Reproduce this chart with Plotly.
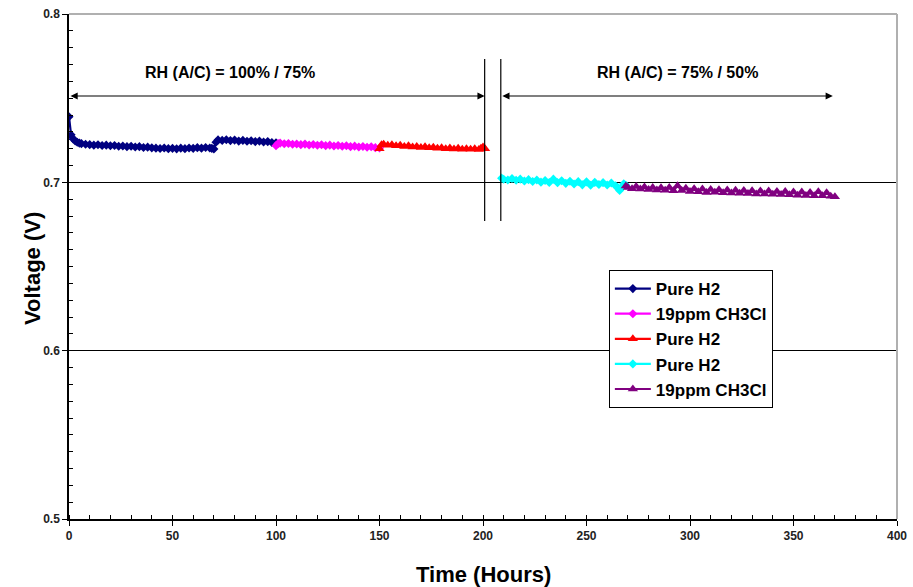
import plotly.graph_objects as go

# ---- data (hours, volts) ----
t_h2_a = [0, 1, 2, 3, 4, 5, 6, 8, 10, 12, 14, 16, 18, 20, 22, 24, 26, 28, 30, 32, 34, 36, 38,
          40, 42, 44, 46, 48, 50, 52, 54, 56, 58, 60, 62, 64, 66, 68, 69, 70, 71, 72, 74, 76,
          78, 80, 82, 84, 86, 88, 90, 92, 94, 96, 98, 100]
v_h2_a = [0.7390, 0.7282, 0.7258, 0.7246, 0.7238, 0.7233, 0.7230, 0.7226, 0.7224, 0.7221,
          0.7223, 0.7219, 0.7221, 0.7217, 0.7219, 0.7214, 0.7216, 0.7212, 0.7214, 0.7210,
          0.7212, 0.7207, 0.7209, 0.7205, 0.7203, 0.7201, 0.7204, 0.7200, 0.7202, 0.7199,
          0.7203, 0.7200, 0.7204, 0.7202, 0.7206, 0.7203, 0.7207, 0.7204, 0.7202, 0.7198,
          0.7238, 0.7252, 0.7249, 0.7253, 0.7248, 0.7251, 0.7245, 0.7249, 0.7244, 0.7247,
          0.7242, 0.7245, 0.7240, 0.7242, 0.7237, 0.7235]

t_cl_a = [100, 101, 102, 104, 106, 108, 110, 112, 114, 116, 118, 120, 122, 124, 126, 128, 130,
          132, 134, 136, 138, 140, 142, 144, 146, 148, 150]
v_cl_a = [0.7218, 0.7230, 0.7233, 0.7229, 0.7231, 0.7226, 0.7228, 0.7224, 0.7227, 0.7222,
          0.7225, 0.7220, 0.7223, 0.7218, 0.7221, 0.7216, 0.7219, 0.7214, 0.7217, 0.7212,
          0.7215, 0.7210, 0.7213, 0.7208, 0.7211, 0.7206, 0.7204]

t_h2_b = [150, 151, 152, 154, 156, 158, 160, 162, 164, 166, 168, 170, 172, 174, 176, 178, 180,
          182, 184, 186, 188, 190, 192, 194, 196, 198, 199, 200, 201]
v_h2_b = [0.7200, 0.7224, 0.7226, 0.7220, 0.7223, 0.7217, 0.7220, 0.7213, 0.7217, 0.7210,
          0.7213, 0.7207, 0.7211, 0.7205, 0.7208, 0.7202, 0.7206, 0.7200, 0.7204, 0.7198,
          0.7202, 0.7197, 0.7200, 0.7196, 0.7199, 0.7195, 0.7203, 0.7210, 0.7200]

t_h2_c = [209, 210, 212, 214, 216, 218, 220, 222, 224, 226, 228, 230, 232, 234, 236, 238, 240,
          242, 244, 246, 248, 250, 252, 254, 256, 258, 260, 262, 264, 265, 266, 267, 268, 269]
v_h2_c = [0.7025, 0.7018, 0.7014, 0.7023, 0.7012, 0.7019, 0.7008, 0.7016, 0.7005, 0.7014,
          0.7001, 0.7011, 0.6999, 0.7019, 0.6998, 0.7009, 0.6994, 0.7006, 0.6990, 0.7004,
          0.6985, 0.7003, 0.6983, 0.7000, 0.6987, 0.6998, 0.6984, 0.6996, 0.6980, 0.6970,
          0.6952, 0.6972, 0.6992, 0.6983]

t_cl_b = [269, 270, 272, 274, 276, 278, 280, 282, 284, 286, 288, 290, 292, 294, 296, 298, 300,
          302, 304, 306, 308, 310, 312, 314, 316, 318, 320, 322, 324, 326, 328, 330, 332, 334,
          336, 338, 340, 342, 344, 346, 348, 350, 352, 354, 356, 358, 360, 362, 364, 366, 368,
          370]
v_cl_b = [0.6978, 0.6970, 0.6962, 0.6975, 0.6960, 0.6972, 0.6957, 0.6970, 0.6955, 0.6968,
          0.6953, 0.6969, 0.6950, 0.6980, 0.6951, 0.6965, 0.6945, 0.6962, 0.6944, 0.6960,
          0.6940, 0.6958, 0.6941, 0.6956, 0.6938, 0.6955, 0.6937, 0.6953, 0.6935, 0.6952,
          0.6934, 0.6950, 0.6931, 0.6949, 0.6931, 0.6948, 0.6929, 0.6946, 0.6927, 0.6945,
          0.6926, 0.6943, 0.6924, 0.6942, 0.6922, 0.6940, 0.6921, 0.6944, 0.6920, 0.6938,
          0.6918, 0.6915]

series = [
    ("Pure H2", t_h2_a, v_h2_a, "#000080", "diamond"),
    ("19ppm CH3Cl", t_cl_a, v_cl_a, "#FF00FF", "diamond"),
    ("Pure H2", t_h2_b, v_h2_b, "#FF0000", "triangle-up"),
    ("Pure H2", t_h2_c, v_h2_c, "#00FFFF", "diamond"),
    ("19ppm CH3Cl", t_cl_b, v_cl_b, "#800080", "triangle-up"),
]

x_ticks = [0, 50, 100, 150, 200, 250, 300, 350, 400]
y_ticks = [0.5, 0.6, 0.7, 0.8]

# annotation geometry (data units)
phase_labels = ["RH (A/C) = 100% / 75%", "RH (A/C) = 75% / 50%"]
phase_label_x = [78, 294]
phase_spans = [(0, 200.8), (208.6, 369)]
divider_x = [200.8, 208.6]
arrow_y = 0.7513
label_y = 0.7655
divider_y = (0.6771, 0.7732)

FONT = "Arial, 'Liberation Sans', sans-serif"

fig = go.Figure()
for i, (name, t, v, col, sym) in enumerate(series):
    fig.add_trace(go.Scatter(
        x=t, y=v, name=name, mode="lines+markers",
        line=dict(color=col, width=2.2),
        marker=dict(color=col, symbol=sym, size=7 if sym == "diamond" else 9,
                    line=dict(width=0)),
        legendgroup=f"g{i}",
    ))

annotations = []
for (x0, x1), lab, lx in zip(phase_spans, phase_labels, phase_label_x):
    annotations.append(dict(
        x=x1, y=arrow_y, ax=x0, ay=arrow_y, xref="x", yref="y", axref="x", ayref="y",
        showarrow=True, arrowhead=2, startarrowhead=2, arrowside="end+start",
        arrowsize=1.2, arrowwidth=1.2, arrowcolor="black", text=""))
    annotations.append(dict(
        x=lx, y=label_y, xref="x", yref="y", showarrow=False, text=lab,
        font=dict(family=FONT, size=16, color="black", weight="bold")))

# axis titles
annotations.append(dict(
    x=-0.0447, y=0.497, xref="paper", yref="paper", xanchor="center", yanchor="middle",
    textangle=-90, showarrow=False, text="Voltage (V)",
    font=dict(family=FONT, size=22, color="black", weight="bold")))
annotations.append(dict(
    x=0.5, y=-0.109, xref="paper", yref="paper", xanchor="center", yanchor="middle",
    showarrow=False, text="Time (Hours)",
    font=dict(family=FONT, size=22, color="black", weight="bold")))

shapes = []
for xd in divider_x:
    shapes.append(dict(type="line", xref="x", yref="y", x0=xd, x1=xd,
                       y0=divider_y[0], y1=divider_y[1],
                       line=dict(color="black", width=1.2)))
# grey frame top/right
shapes.append(dict(type="line", xref="paper", yref="paper", x0=0, x1=1, y0=1, y1=1,
                   line=dict(color="#B0B0B0", width=2), layer="above"))
shapes.append(dict(type="line", xref="paper", yref="paper", x0=1, x1=1, y0=0, y1=1,
                   line=dict(color="#B0B0B0", width=2), layer="above"))

fig.update_layout(
    width=913, height=587,
    margin=dict(l=69, r=16, t=14, b=68, autoexpand=False),
    paper_bgcolor="white", plot_bgcolor="white",
    font=dict(family=FONT, color="black"),
    annotations=annotations, shapes=shapes,
    legend=dict(
        x=0.652, y=0.493, xanchor="left", yanchor="top",
        bgcolor="white", bordercolor="black", borderwidth=1,
        font=dict(family=FONT, size=17, color="black", weight="bold"),
        tracegroupgap=0, itemwidth=36,
    ),
    xaxis=dict(
        range=[0, 400], tickvals=x_ticks, showgrid=False, automargin=False,
        showline=True, linecolor="black", linewidth=1.5,
        ticks="outside", ticklen=5, tickcolor="black",
        minor=dict(dtick=10, ticks="inside", ticklen=4, tickcolor="black", showgrid=False),
        tickfont=dict(family=FONT, size=12, color="#222", weight="bold"),
        zeroline=False,
    ),
    yaxis=dict(
        range=[0.5, 0.8], tickvals=y_ticks, tickformat=".1f", automargin=False,
        showgrid=True, gridcolor="black", gridwidth=1,
        showline=True, linecolor="black", linewidth=1.5,
        ticks="outside", ticklen=5, tickcolor="black",
        minor=dict(dtick=0.01, ticks="inside", ticklen=4, tickcolor="black", showgrid=False),
        tickfont=dict(family=FONT, size=12, color="#222", weight="bold"),
        zeroline=False,
    ),
)

fig.write_html("out.html")
